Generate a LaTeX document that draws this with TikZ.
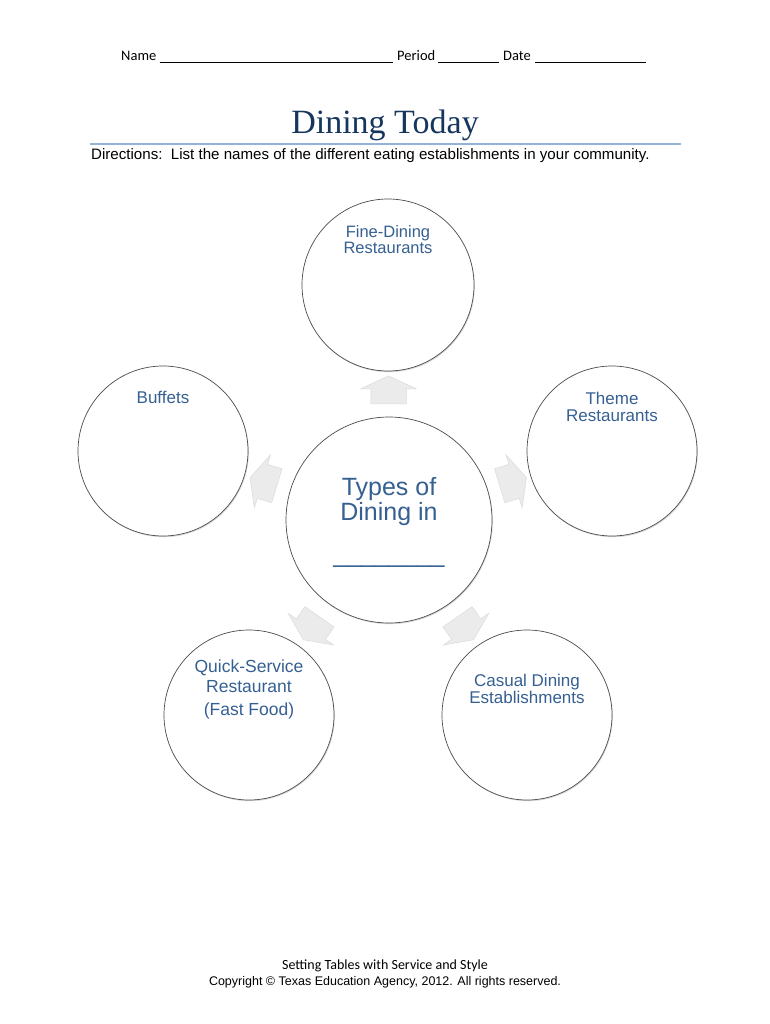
\documentclass[tikz,border=0pt]{standalone}
\usepackage{fontspec}
\setmainfont{Liberation Sans}
\newfontfamily\calibri{Carlito}
\newfontfamily\titlefont{Liberation Serif}
\usetikzlibrary{positioning,calc,shapes.arrows,shadows}
\definecolor{labelblue}{RGB}{54,96,146}
\definecolor{titleblue}{RGB}{23,54,93}
\definecolor{ruleblue}{RGB}{149,179,215}

\begin{document}
\begin{tikzpicture}[
    x=1pt, y=-1pt,
    circ/.style={circle, draw=black!70, line width=0.7pt, fill=white, inner sep=0pt, minimum size=170pt,
      drop shadow={shadow xshift=0.8pt, shadow yshift=-1.2pt, opacity=0.3}},
    tag/.style={font=\fontsize{17}{17}\selectfont, text=labelblue, align=center, inner sep=0pt},
    blockarr/.style={single arrow, fill=black!8, draw=black!14, line width=0.5pt, inner xsep=0pt, inner ysep=17.5pt,
      single arrow head extend=10pt, single arrow tip angle=130, minimum height=28pt},
    hdr/.style={font=\calibri\fontsize{14.5}{16}\selectfont, inner sep=0pt},
    fillin/.style={line width=0.6pt}
  ]
    \useasboundingbox[fill=white] (0,0) rectangle (770,1024);

    % header
    \node[hdr, anchor=base west] (namelbl) at (121,61) {Name};
    \node[hdr, anchor=base west] (perlbl) at (397,61) {Period};
    \node[hdr, anchor=base west] (datelbl) at (503,61) {Date};
    \draw[fillin] ([xshift=3pt,yshift=-1.5pt]namelbl.base east) -- ([xshift=-4pt,yshift=-1.5pt]perlbl.base west);
    \draw[fillin] ([xshift=3pt,yshift=-1.5pt]perlbl.base east) -- ([xshift=-4pt,yshift=-1.5pt]datelbl.base west);
    \draw[fillin] ([xshift=4pt,yshift=-1.5pt]datelbl.base east) -- ++(111,0) coordinate (dateend);

    \node[font=\titlefont\fontsize{34}{34}\selectfont, text=titleblue, anchor=base] (title) at (385,134) {Dining Today};
    \draw[ruleblue, line width=2pt] (90,144) -- (681,144);
    \node[font=\fontsize{15.1}{16}\selectfont, anchor=base west, inner sep=0pt] (dirs) at (91,160)
      {Directions:\ \ List the names of the different eating establishments in your community.};

    % circles
    \node[circ, minimum size=206pt] (hub) at (389,520) {};
    \node[circ, minimum size=172pt] (fine) at (388,285) {};
    \node[circ] (buffet) at (163,451) {};
    \node[circ] (theme) at (612,451) {};
    \node[circ] (quick) at (249,715) {};
    \node[circ] (casual) at (527,715) {};

    % block arrows
    \node[blockarr, rotate=90] (upar) at ($(hub.90)!0.5!(fine.270)$) {};
    \node[blockarr, rotate=17] (rightar) at ($(hub.17)!0.5!(theme.197)$) {};
    \node[blockarr, rotate=163] (leftar) at ($(hub.163)!0.5!(buffet.-17)$) {};
    \node[blockarr, rotate=-55] (brar) at ($(hub.-55)!0.5!(casual.125)$) {};
    \node[blockarr, rotate=-125] (blar) at ($(hub.-125)!0.5!(quick.55)$) {};

    % labels
    \node[tag, font=\fontsize{25}{25}\selectfont, below=61pt of hub.north] (hubtxt) {Types of\\Dining in\\[17pt]\_\_\_\_\_\_\_\_};
    \node[tag, font=\fontsize{16.5}{16}\selectfont, below=27pt of fine.north] (finetxt) {Fine-Dining\\Restaurants};
    \node[tag, below=25pt of buffet.north] (buffettxt) {Buffets};
    \node[tag, below=26pt of theme.north] (themetxt) {Theme\\Restaurants};
    \node[tag, font=\fontsize{17.5}{20}\selectfont, below=30pt of quick.north] (quicktxt) {Quick-Service\\Restaurant\\[3pt](Fast Food)};
    \node[tag, below=44pt of casual.north] (casualtxt) {Casual Dining\\Establishments};

    % footer
    \node[font=\calibri\fontsize{14}{14}\selectfont, anchor=base] (course) at (385,969) {Setting Tables with Service and Style};
    \node[font=\fontsize{12.5}{13}\selectfont, anchor=base] (copy) at (385,985) {Copyright © Texas Education Agency, 2012. All rights reserved.};
  \end{tikzpicture}
\end{document}
